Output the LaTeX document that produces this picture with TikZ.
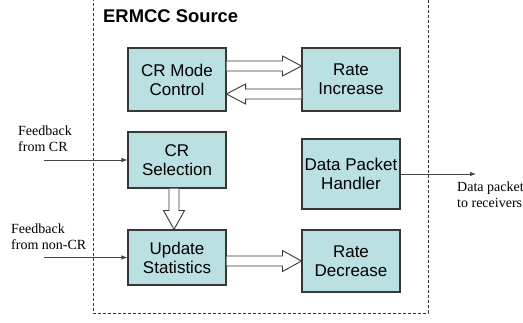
\documentclass[tikz,border=0pt]{standalone}
\usepackage{fontspec}
\setmainfont{Liberation Serif}
\setsansfont{Liberation Sans}
\usetikzlibrary{calc,arrows.meta}
\definecolor{boxfill}{RGB}{186,224,226}
\definecolor{edge}{RGB}{55,55,55}
\definecolor{lin}{RGB}{70,70,70}
\tikzset{
  blk/.style={draw=edge, line width=1.1pt, fill=boxfill, minimum width=98pt, inner sep=0pt,
    align=center, font=\sffamily\fontsize{17}{19}\selectfont},
  barrow/.style={draw=edge, line width=0.9pt, fill=white, line join=miter},
  feed/.style={draw=lin, line width=0.8pt, -{Latex[length=6pt,width=4.5pt]}},
  lbl/.style={align=left, anchor=west, inner sep=0pt, font=\fontsize{14}{15.8}\selectfont}
}
\begin{document}
\begin{tikzpicture}[x=1pt,y=-1pt]
\useasboundingbox (0,0) rectangle (523,322);
% dashed frame
\draw[edge, line width=0.8pt, dashed, dash pattern=on 3pt off 2pt] (93,-2) -- (93,313) -- (428,313) -- (428,-2);
\node[anchor=west, inner sep=0pt, font=\sffamily\bfseries\fontsize{18.4}{20}\selectfont] (title) at (103,16) {ERMCC Source};
% boxes
\node[blk, minimum height=63pt] (crmc) at (177,79.5) {CR Mode\\Control};
\node[blk, minimum height=63pt] (rinc) at (351,79.5) {Rate\\Increase};
\node[blk, minimum height=56pt] (crsel) at (177,160) {CR\\Selection};
\node[blk, minimum height=70pt] (dph) at (351,174) {Data Packet\\Handler};
\node[blk, minimum height=55pt] (upd) at (177,257.5) {Update\\Statistics};
\node[blk, minimum height=62pt] (rdec) at (351,261) {Rate\\Decrease};
% block arrows
\coordinate (t1) at ($(rinc.west)+(0,-13.5)$);
\coordinate (s1) at (crmc.east |- t1);
\draw[barrow] ($(s1)+(0,-5)$) -- ($(t1)+(-19,-5)$) -- ($(t1)+(-19,-10)$) -- (t1) -- ($(t1)+(-19,10)$) -- ($(t1)+(-19,5)$) -- ($(s1)+(0,5)$);
\coordinate (t2) at ($(crmc.east)+(0,14.5)$);
\coordinate (s2) at (rinc.west |- t2);
\draw[barrow] ($(s2)+(0,-5)$) -- ($(t2)+(19,-5)$) -- ($(t2)+(19,-10)$) -- (t2) -- ($(t2)+(19,10)$) -- ($(t2)+(19,5)$) -- ($(s2)+(0,5)$);
\coordinate (t3) at ($(upd.north)+(-3,0)$);
\coordinate (s3) at (t3 |- crsel.south);
\draw[barrow] ($(s3)+(-5,0)$) -- ($(t3)+(-5,-19)$) -- ($(t3)+(-10.5,-19)$) -- (t3) -- ($(t3)+(10.5,-19)$) -- ($(t3)+(5,-19)$) -- ($(s3)+(5,0)$);
\coordinate (t4) at (rdec.west);
\coordinate (s4) at (upd.east |- t4);
\draw[barrow] ($(s4)+(0,-5)$) -- ($(t4)+(-19,-5)$) -- ($(t4)+(-19,-10.5)$) -- (t4) -- ($(t4)+(-19,10.5)$) -- ($(t4)+(-19,5)$) -- ($(s4)+(0,5)$);
% feedback lines
\coordinate (f1) at (44,160);
\coordinate (f2) at (44,257.5);
\coordinate (f3) at (476,174);
\draw[feed] (f1) -- (crsel.west);
\draw[feed] (f2) -- (upd.west);
\draw[feed] (dph.east) -- (f3);
\node[lbl] (l1) at (18,139) {Feedback\\from CR};
\node[lbl] (l2) at (11,237) {Feedback\\from non-CR};
\node[lbl] (l3) at (457,195) {Data packet\\to receivers};
\end{tikzpicture}
\end{document}
